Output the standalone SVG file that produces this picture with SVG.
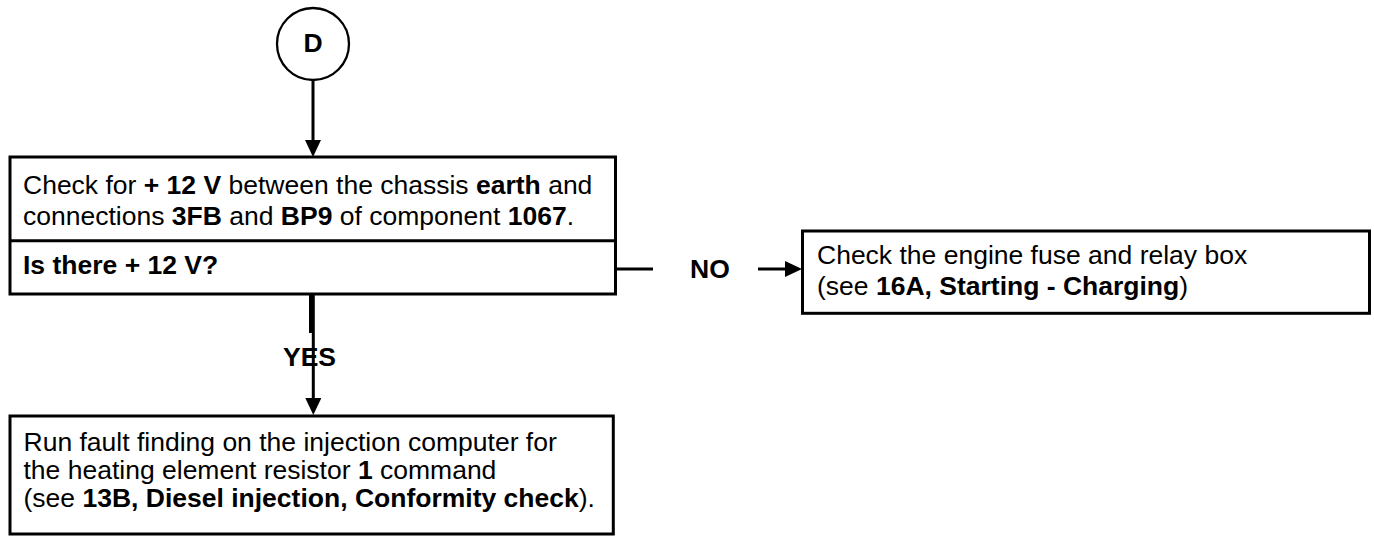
<svg xmlns="http://www.w3.org/2000/svg" width="1374" height="536" viewBox="0 0 1374 536">
  <style>
    .box { fill: #ffffff; stroke: #000000; stroke-width: 3; }
    .txt { font-family: "Liberation Sans", Arial, sans-serif; font-size: 26.5px; fill: #000000; }
    .b { font-weight: bold; }
    .wire { fill: none; stroke: #000000; stroke-width: 3; }
  </style>
  <defs>
    <marker id="arrow" markerUnits="userSpaceOnUse" markerWidth="17" markerHeight="16" refX="5" refY="8" orient="auto">
      <path d="M0,0 L17,8 L0,16 z" fill="#000000"/>
    </marker>
  </defs>

  <rect width="1374" height="536" fill="#ffffff"/>

  <!-- connectors -->
  <g id="connectors">
    <line class="wire" x1="313" y1="80" x2="313" y2="145" marker-end="url(#arrow)"/>
    <line class="wire" x1="613" y1="269" x2="653" y2="269"/>
    <line class="wire" x1="758" y1="269" x2="790" y2="269" marker-end="url(#arrow)"/>
    <line class="wire" x1="310.5" y1="289" x2="310.5" y2="333"/>
    <line class="wire" x1="313.3" y1="289" x2="313.3" y2="403" marker-end="url(#arrow)"/>
    <text class="txt b" x="690" y="278">NO</text>
    <text class="txt b" x="283" y="366">YES</text>
  </g>

  <!-- start marker D -->
  <g id="node-d">
    <circle cx="313" cy="44" r="36" fill="#ffffff" stroke="#000000" stroke-width="2.3"/>
    <text class="txt b" x="313" y="52" text-anchor="middle">D</text>
  </g>

  <!-- voltage check -->
  <g id="node-check">
    <rect class="box" x="10" y="157" width="605.5" height="137"/>
    <line class="wire" x1="10" y1="240.7" x2="615.5" y2="240.7"/>
    <text class="txt" x="23" y="194">Check for <tspan class="b">+ 12 V</tspan> between the chassis <tspan class="b">earth</tspan> and</text>
    <text class="txt" x="23" y="225">connections <tspan class="b">3FB</tspan> and <tspan class="b">BP9</tspan> of component <tspan class="b">1067</tspan>.</text>
    <text class="txt b" x="23" y="274">Is there + 12 V?</text>
  </g>

  <!-- NO branch -->
  <g id="node-fuse-box">
    <rect class="box" x="802.5" y="231" width="567" height="82.3"/>
    <text class="txt" x="817" y="264">Check the engine fuse and relay box</text>
    <text class="txt" x="817" y="295">(see <tspan class="b">16A, Starting - Charging</tspan>)</text>
  </g>

  <!-- YES branch -->
  <g id="node-injection">
    <rect class="box" x="10" y="416" width="603.3" height="118"/>
    <text class="txt" x="23.5" y="451">Run fault finding on the injection computer for</text>
    <text class="txt" x="23.5" y="479">the heating element resistor <tspan class="b">1</tspan> command</text>
    <text class="txt" x="23.5" y="507">(see <tspan class="b">13B, Diesel injection, Conformity check</tspan>).</text>
  </g>
</svg>
